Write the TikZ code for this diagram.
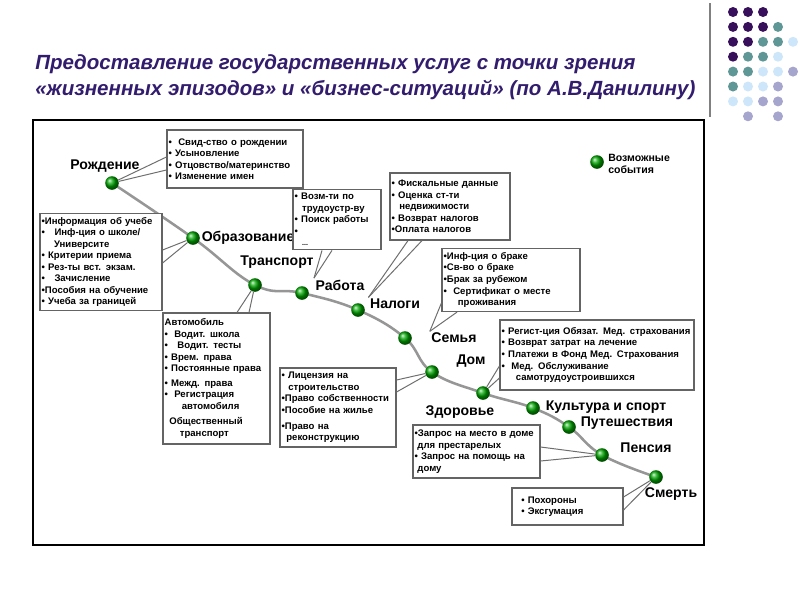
\documentclass[tikz,border=0pt]{standalone}
\usepackage{fontspec}
\setmainfont{Liberation Sans}
\usepackage{xcolor}
\usepackage{tikz}
\usetikzlibrary{positioning,backgrounds}

\definecolor{titlec}{RGB}{50,28,110}
\definecolor{dpurp}{RGB}{55,15,90}
\definecolor{dteal}{RGB}{95,150,150}
\definecolor{lblue}{RGB}{205,230,250}
\definecolor{lav}{RGB}{165,165,205}
\definecolor{boxgray}{RGB}{100,100,100}
\definecolor{linkgray}{RGB}{110,110,110}
\definecolor{roadgray}{RGB}{150,150,150}

\begin{document}
\begin{tikzpicture}[
  x=0.25mm, y=-0.25mm,
  ev/.style={circle, shading=ball, ball color=green!65!black, minimum size=3.4mm, inner sep=0pt},
  lbl/.style={font=\bfseries\fontsize{10}{12}\selectfont, inner sep=1pt},
  info/.style={draw=boxgray, line width=0.8pt, fill=white, align=left, inner xsep=0.4mm, inner ysep=1mm, font=\bfseries\fontsize{6.8}{8.2}\selectfont},
  link/.style={draw=linkgray, line width=0.7pt},
  road/.style={draw=roadgray, line width=1.8pt}
]
\useasboundingbox (0,0) rectangle (800,600);

% title and corner dots
\node[anchor=north west, align=left, inner sep=0pt, text=titlec,
  font=\bfseries\itshape\fontsize{14.6}{18.8}\selectfont] (title) at (35,54)
  {Предоставление государственных услуг с точки зрения\\
   «жизненных эпизодов» и «бизнес-ситуаций» (по А.В.Данилину)};
\draw[gray, line width=1.2pt] (710,3) -- (710,117);
\foreach \c/\r/\col in {1/1/dpurp,2/1/dpurp,3/1/dpurp,
  1/2/dpurp,2/2/dpurp,3/2/dpurp,4/2/dteal,
  1/3/dpurp,2/3/dpurp,3/3/dteal,4/3/dteal,5/3/lblue,
  1/4/dpurp,2/4/dteal,3/4/dteal,4/4/lblue,
  1/5/dteal,2/5/dteal,3/5/lblue,4/5/lblue,5/5/lav,
  1/6/dteal,2/6/lblue,3/6/lblue,4/6/lav,
  1/7/lblue,2/7/lblue,3/7/lav,4/7/lav,
  2/8/lav,4/8/lav}
  \fill[\col] ({733+15*(\c-1)},{12+14.9*(\r-1)}) circle[radius=1.25mm];

% frame
\draw[line width=2pt] (33,120) rectangle (704,545);

% events
\node[ev] (birth) at (112,183) {};
\node[ev] (edu) at (193,238) {};
\node[ev] (trans) at (255,285) {};
\node[ev] (work) at (302,293) {};
\node[ev] (tax) at (358,310) {};
\node[ev] (fam) at (405,338) {};
\node[ev] (home) at (432,372) {};
\node[ev] (health) at (483,393) {};
\node[ev] (cult) at (533,408) {};
\node[ev] (trav) at (569,427) {};
\node[ev] (pens) at (602,455) {};
\node[ev] (death) at (656,477) {};

\begin{scope}[on background layer]
\fill[white] (0,0) rectangle (800,600);
\draw[road] plot[smooth, tension=0.7] coordinates {(birth) (edu) (trans) (work) (tax) (fam) (home) (health) (cult) (trav) (pens) (death)};
\end{scope}

\node[lbl] (birthL) at (105,166) {Рождение};
\node[lbl, right=0pt of edu] (eduL) {Образование};
\node[lbl] (transL) at (277,262) {Транспорт};
\node[lbl] (workL) at (340,285) {Работа};
\node[lbl] (taxL) at (395,304) {Налоги};
\node[lbl] (famL) at (454,338) {Семья};
\node[lbl] (homeL) at (471,361) {Дом};
\node[lbl] (healthL) at (460,412) {Здоровье};
\node[lbl] (cultL) at (606,407) {Культура и спорт};
\node[lbl] (travL) at (627,423) {Путешествия};
\node[lbl] (pensL) at (646,448) {Пенсия};
\node[lbl] (deathL) at (671,494) {Смерть};

% legend
\node[ev] (key) at (597,162) {};
\node[anchor=north west, align=left, inner sep=0pt, font=\bfseries\fontsize{7.5}{8.8}\selectfont] (keyt) at (608,154) {Возможные\\события};

% info boxes
\node[info, text width=33.2mm, minimum height=14.5mm] (birthI) at (235,159)
  {•\ \ Свид-ство о рождении\\ •\ Усыновление\\ •\ Отцовство/материнство\\ •\ Изменение имен};
\node[info, text width=29.7mm, minimum height=24mm] (eduI) at (101,262)
  {\mbox{•Информация об учебе}\\ •\quad Инф-ция о школе/\\ \hspace*{1.3em}Университе\\ •\ Критерии приема\\ •\ Рез-ты вст. экзам.\\ •\quad Зачисление\\ \mbox{•Пособия на обучение}\\ •\ Учеба за границей};
\node[info, text width=21.2mm, minimum height=13.75mm] (workI) at (337,219.5)
  {•\ Возм-ти по\\ \hspace*{0.8em}трудоустр-ву\\ •\ Поиск работы\\ •\\ \hspace*{0.8em}{\tiny ...}};
\node[info, text width=29.2mm, minimum height=16.75mm] (taxI) at (450,206.5)
  {•\ Фискальные данные\\ •\ Оценка ст-ти\\ \hspace*{0.8em}недвижимости\\ •\ Возврат налогов\\ •Оплата налогов};
\node[info, text width=33.7mm, minimum height=15mm] (famI) at (511,280)
  {•Инф-ция о браке\\ •Св-во о браке\\ •Брак за рубежом\\ •\ \ Сертификат о месте\\ \hspace*{1.5em}проживания};
\node[info, text width=25.95mm, minimum height=32.75mm] (transI) at (216.5,378.5)
  {Автомобиль\\ •\ \ Водит. школа\\ •\ \ \ Водит. тесты\\ •\ Врем. права\\ \mbox{•\ Постоянные права}\\[2pt] •\ Межд. права\\ •\ \ Регистрация\\ \hspace*{1.8em}автомобиля\\[3pt] \hspace*{0.5em}Общественный\\ \hspace*{1.6em}транспорт};
\node[info, text width=28.2mm, minimum height=19.75mm] (homeI) at (338,407.5)
  {•\ Лицензия на\\ \hspace*{0.7em}строительство\\ \mbox{•Право собственности}\\ •Пособие на жилье\\[3pt] •Право на\\ \hspace*{0.5em}реконструкцию};
\node[info, text width=47.7mm, minimum height=17.5mm] (healthI) at (597,355)
  {\mbox{•\ Регист-ция Обязат. Мед. страхования}\\ •\ Возврат затрат на лечение\\ \mbox{•\ Платежи в Фонд Мед. Страхования}\\ •\ \ Мед. Обслуживание\\ \hspace*{1.5em}самотрудоустроившихся};
\node[info, text width=30.95mm, minimum height=13.25mm] (pensI) at (476.5,451.5)
  {\mbox{•Запрос на место в доме}\\ \hspace*{0.3em}для престарелых\\ \mbox{•\ Запрос на помощь на}\\ \hspace*{0.3em}дому};
\node[info, text width=26.95mm, minimum height=9.25mm] (deathI) at (567.5,506.5)
  {\hspace*{0.8em}•\ Похороны\\ \hspace*{0.8em}•\ Эксгумация};

% connectors
\draw[link] (birth) -- (birthI.west |- 0,157);
\draw[link] (birth) -- (birthI.west |- 0,170);
\draw[link] (edu) -- (eduI.east |- 0,250);
\draw[link] (edu) -- (eduI.east |- 0,263);
\draw[link] (trans) -- (transI.north -| 237,0);
\draw[link] (trans) -- (transI.north -| 249,0);
\draw[link] (workL.north west) -- (workI.south -| 322,0);
\draw[link] (workL.north west) -- (workI.south -| 332,0);
\draw[link] (taxL.north west) -- (taxI.south -| 408,0);
\draw[link] (taxL.north west) -- (taxI.south -| 422,0);
\draw[link] (famL.north west) -- (famI.west |- 0,303);
\draw[link] (famL.north west) -- (famI.south -| 457,0);
\draw[link] (home) -- (homeI.east |- 0,380);
\draw[link] (home) -- (homeI.east |- 0,392);
\draw[link] (health) -- (healthI.west |- 0,366);
\draw[link] (health) -- (healthI.west |- 0,378);
\draw[link] (pens) -- (pensI.east |- 0,447);
\draw[link] (pens) -- (pensI.east |- 0,461);
\draw[link] (death) -- (deathI.east |- 0,497);
\draw[link] (death) -- (deathI.east |- 0,510);
\end{tikzpicture}
\end{document}
